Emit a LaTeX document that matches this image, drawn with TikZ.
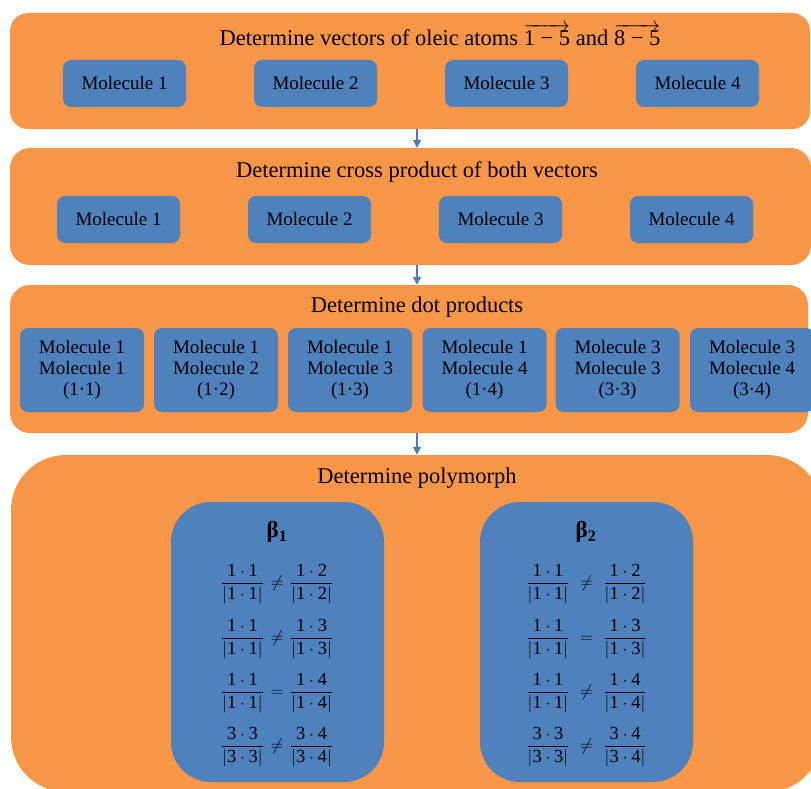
\documentclass[tikz,border=0pt]{standalone}
\usepackage{fontspec}
\setmainfont{Liberation Serif}
\usepackage{amsmath}
\usetikzlibrary{arrows.meta}
\definecolor{orbox}{HTML}{F79646}
\definecolor{blbox}{HTML}{4F81BD}
\definecolor{arrblue}{HTML}{4A7EBB}
\newcommand{\dg}[1]{\text{#1}}
\newcommand{\fracrow}[4]{$\displaystyle\frac{#1}{\left|#1\right|}\mathrel{\hspace{#4}#2\hspace{#4}}\frac{#3}{\left|#3\right|}$}
\begin{document}
\begin{tikzpicture}[x=1pt,y=-1pt,
  stage/.style={fill=orbox, draw=none, rounded corners=#1, inner sep=0pt},
  title/.style={font=\fontsize{22.5}{27}\selectfont, anchor=base, inner sep=0pt},
  mol/.style={fill=blbox, draw=none, rounded corners=8pt, inner sep=0pt,
    minimum width=123pt, minimum height=47pt, font=\fontsize{19}{21.3}\selectfont, align=center},
  dotbox/.style={mol, minimum width=124pt, minimum height=84pt},
  polybox/.style={fill=blbox, draw=none, rounded corners=40pt, inner sep=0pt,
    minimum width=213pt, minimum height=280pt},
  frow/.style={font=\fontsize{18.5}{22}\selectfont, inner sep=0pt},
  plabel/.style={font=\fontsize{23}{26}\selectfont\bfseries, inner sep=0pt},
  arr/.style={arrblue, line width=1.3pt, -{Triangle[width=8pt,length=8pt]}}
]
\useasboundingbox (0,0) rectangle (811,789);
\clip (0,0) rectangle (811,789);

% stage boxes
\node[stage=18pt, minimum width=800pt, minimum height=116pt] (box1) at (410,71) {};
\node[stage=20pt, minimum width=801pt, minimum height=117pt] (box2) at (410.5,206.5) {};
\node[stage=20pt, minimum width=798pt, minimum height=148pt] (box3) at (409,359) {};
\node[stage=55pt, minimum width=811pt, minimum height=337pt] (box4) at (416.5,623.5) {};

% titles
\node[title] (t1) at (440,46) {Determine vectors of oleic atoms $\overrightarrow{\hbox{1 − 5}}$ and $\overrightarrow{\hbox{8 − 5}}$};
\node[title] (t2) at (417,177) {Determine cross product of both vectors};
\node[title] (t3) at (417,312) {Determine dot products};
\node[title] (t4) at (417,483) {Determine polymorph};

% row 1
\node[mol] (a1) at (124.5,83.5) {Molecule 1};
\node[mol] (a2) at (315.5,83.5) {Molecule 2};
\node[mol] (a3) at (506.5,83.5) {Molecule 3};
\node[mol] (a4) at (697.5,83.5) {Molecule 4};

% row 2
\node[mol] (b1) at (118.5,219.5) {Molecule 1};
\node[mol] (b2) at (309.5,219.5) {Molecule 2};
\node[mol] (b3) at (500.5,219.5) {Molecule 3};
\node[mol] (b4) at (691.5,219.5) {Molecule 4};

% row 3
\node[dotbox] (c1) at (82,370) {Molecule 1\\Molecule 1\\(1·1)};
\node[dotbox] (c2) at (216,370) {Molecule 1\\Molecule 2\\(1·2)};
\node[dotbox] (c3) at (350,370) {Molecule 1\\Molecule 3\\(1·3)};
\node[dotbox] (c4) at (484.5,370) {Molecule 1\\Molecule 4\\(1·4)};
\node[dotbox] (c5) at (617.5,370) {Molecule 3\\Molecule 3\\(3·3)};
\node[dotbox] (c6) at (752,370) {Molecule 3\\Molecule 4\\(3·4)};

% polymorph boxes
\node[polybox] (p1) at (277.5,642) {};
\node[polybox] (p2) at (586.5,642) {};
\node[plabel] (p1l) at (277,532) {β\textsubscript{1}};
\node[plabel] (p2l) at (586,532) {β\textsubscript{2}};

\node[frow] (r11) at (277,584) {\fracrow{\dg{1}\cdot\dg{1}}{\neq}{\dg{1}\cdot\dg{2}}{2pt}};
\node[frow] (r12) at (277,639) {\fracrow{\dg{1}\cdot\dg{1}}{\neq}{\dg{1}\cdot\dg{3}}{2pt}};
\node[frow] (r13) at (277,693) {\fracrow{\dg{1}\cdot\dg{1}}{=}{\dg{1}\cdot\dg{4}}{2pt}};
\node[frow] (r14) at (277,747) {\fracrow{\dg{3}\cdot\dg{3}}{\neq}{\dg{3}\cdot\dg{4}}{2pt}};

\node[frow] (r21) at (586.5,584) {\fracrow{\dg{1}\cdot\dg{1}}{\neq}{\dg{1}\cdot\dg{2}}{6pt}};
\node[frow] (r22) at (586.5,639) {\fracrow{\dg{1}\cdot\dg{1}}{=}{\dg{1}\cdot\dg{3}}{6pt}};
\node[frow] (r23) at (586.5,693) {\fracrow{\dg{1}\cdot\dg{1}}{\neq}{\dg{1}\cdot\dg{4}}{6pt}};
\node[frow] (r24) at (586.5,747) {\fracrow{\dg{3}\cdot\dg{3}}{\neq}{\dg{3}\cdot\dg{4}}{6pt}};

% arrows
\draw[arr] (t2 |- box1.south) -- (t2 |- box2.north);
\draw[arr] (t3 |- box2.south) -- (t3 |- box3.north);
\draw[arr] (t4 |- box3.south) -- (t4 |- box4.north);
\end{tikzpicture}
\end{document}
